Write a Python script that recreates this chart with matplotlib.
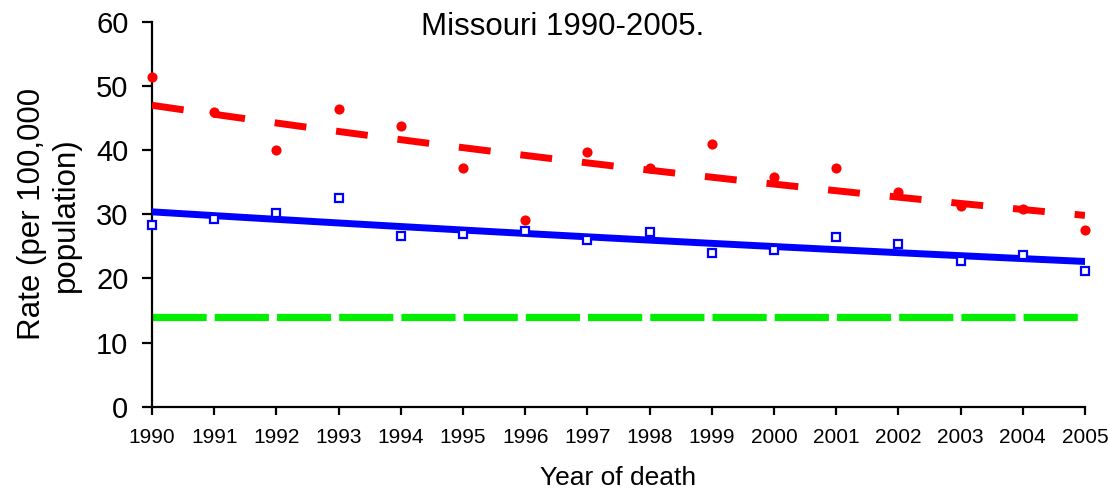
import numpy as np
import matplotlib
matplotlib.use("Agg")
import matplotlib.pyplot as plt

plt.rcParams["font.family"] = ["Liberation Sans", "DejaVu Sans"]
plt.rcParams["lines.scale_dashes"] = False

# Data
years = [1990, 1991, 1992, 1993, 1994, 1995, 1996, 1997,
         1998, 1999, 2000, 2001, 2002, 2003, 2004, 2005]
red_rates = [51.4, 45.9, 40.1, 46.5, 43.8, 37.2, 29.1, 39.7,
             37.3, 40.9, 35.9, 37.2, 33.5, 31.3, 30.8, 27.5]
blue_rates = [28.3, 29.2, 30.2, 32.5, 26.6, 27.0, 27.4, 26.0,
              27.2, 23.9, 24.4, 26.4, 25.4, 22.7, 23.7, 21.2]
target_rate = 14.0

x = np.array(years)
xs = np.linspace(1990, 2005, 100)

# Exponential trend lines (as Excel draws them) fitted to each series
red_fit = np.exp(np.polyval(np.polyfit(x, np.log(red_rates), 1), xs))
blue_fit = np.exp(np.polyval(np.polyfit(x, np.log(blue_rates), 1), xs))

fig = plt.figure(figsize=(11.08, 4.95), dpi=100)
ax = fig.add_axes([0.1372, 0.1784, 0.842, 0.7772])

ax.plot(x, [target_rate] * len(x), color="#00ee00", lw=5.2,
        dashes=(39, 5.8), dash_capstyle="butt", zorder=2)
ax.plot(xs, red_fit, color="#ff0000", lw=5.0,
        dashes=(23, 21.6), dash_capstyle="butt", zorder=3)
ax.plot(xs, blue_fit, color="#0000ff", lw=5.0,
        solid_capstyle="round", zorder=3)

ax.plot(x, red_rates, "o", color="#ff0000", ms=7.3, mec="none",
        clip_on=False, zorder=5)
ax.plot(x, blue_rates, "s", mfc="white", mec="#0000ff", ms=5.8, mew=1.6,
        clip_on=False, zorder=5)

ax.set_xlim(1990, 2005)
ax.set_ylim(0, 60)
ax.set_xticks(years)
ax.set_yticks(range(0, 61, 10))
ax.tick_params(axis="x", labelsize=15, length=6, width=1.6, pad=9)
ax.tick_params(axis="y", labelsize=21, length=7, width=1.6, pad=10)

for side in ["top", "right"]:
    ax.spines[side].set_visible(False)
for side in ["left", "bottom"]:
    ax.spines[side].set_linewidth(1.6)

ax.set_xlabel("Year of death", fontsize=19, labelpad=14)
ax.set_ylabel("Rate (per 100,000\npopulation)", fontsize=22.5, labelpad=11,
              linespacing=1.15)

fig.text(0.508, 0.945, "Missouri 1990-2005.", fontsize=22.5,
         ha="center", va="center")

fig.savefig("out.png", dpi=100)
